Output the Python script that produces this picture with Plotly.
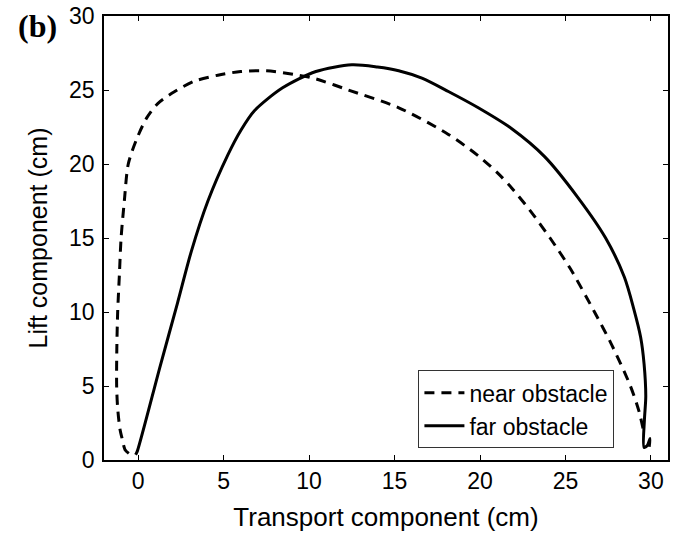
import plotly.graph_objects as go

# near obstacle (dashed)
near_x = [-0.55, -0.77, -0.95, -1.06, -1.2, -1.26, -1.25, -1.2, -1.1, -1.0, -0.81, -0.58, -0.1,
          0.49, 1.16, 2.14, 3.3, 4.66, 6.0, 7.5, 9.4, 10.4, 12.3, 15.25, 18.15, 19.9, 21.07,
          21.84, 22.9, 24.1, 25.3, 26.7, 27.7, 28.8, 29.3, 29.6]
near_y = [0.45, 0.7, 1.5, 2.04, 3.5, 5.0, 7.5, 10.0, 12.5, 15.0, 17.5, 20.0, 21.65,
          23.1, 24.1, 24.9, 25.6, 26.0, 26.25, 26.3, 26.0, 25.75, 25.0, 23.8, 22.0, 20.55, 19.35,
          18.4, 16.9, 15.0, 12.9, 10.0, 7.8, 5.0, 3.3, 1.8]

# far obstacle (solid)
far_x = [-0.15, -0.05, 1.3, 2.3, 3.11, 4.08, 5.24, 6.02, 6.8, 8.45, 10.4, 12.5,
         14.0, 15.24, 16.6, 18.15, 19.9, 21.84, 23.78, 25.72, 27.35, 28.45, 29.0, 29.4,
         29.6, 29.7, 29.62, 29.6, 29.8, 29.95, 29.9]
far_y = [0.35, 0.6, 6.4, 10.6, 14.1, 17.5, 20.6, 22.3, 23.6, 25.15, 26.25, 26.7,
         26.55, 26.3, 25.8, 24.9, 23.8, 22.4, 20.5, 17.75, 15.0, 12.35, 10.2, 8.3,
         6.5, 4.3, 2.7, 0.85, 1.0, 1.45, 0.9]

x_ticks = [0, 5, 10, 15, 20, 25, 30]
y_ticks = [0, 5, 10, 15, 20, 25, 30]

FONT = "Liberation Sans, Arial, sans-serif"

fig = go.Figure()
fig.add_trace(go.Scatter(x=near_x, y=near_y, mode="lines", name="near obstacle",
                         line=dict(color="black", width=3, dash="10px,7px", shape="spline", smoothing=0.8)))
fig.add_trace(go.Scatter(x=far_x, y=far_y, mode="lines", name="far obstacle",
                         line=dict(color="black", width=3, shape="spline", smoothing=0.8)))

axis_common = dict(showline=True, linecolor="black", linewidth=1.5, mirror="ticks",
                   ticks="inside", ticklen=5, tickwidth=1, tickcolor="black",
                   showgrid=False, zeroline=False,
                   tickfont=dict(family=FONT, size=23, color="black"))

fig.update_xaxes(range=[-2, 31], tickvals=x_ticks, ticktext=[str(v) for v in x_ticks],
                 title=dict(text="Transport component (cm)", font=dict(family=FONT, size=26, color="black"),
                            standoff=14),
                 **axis_common)
fig.update_yaxes(range=[0, 30], tickvals=y_ticks, ticktext=[str(v) for v in y_ticks],
                 ticklabelstandoff=3,
                 title=dict(text="Lift component (cm)", font=dict(family=FONT, size=25, color="black"),
                            standoff=14),
                 **axis_common)

fig.update_layout(
    width=673, height=537,
    margin=dict(l=104, r=3, t=14, b=77),
    plot_bgcolor="white", paper_bgcolor="white",
    showlegend=True,
    legend=dict(x=0.905, y=0.2018, xanchor="right", yanchor="top",
                bgcolor="white", bordercolor="#333", borderwidth=1,
                font=dict(family=FONT, size=23, color="black"),
                itemwidth=40, tracegroupgap=0),
    annotations=[dict(text="<b>(b)</b>", xref="paper", yref="paper", x=-0.118, y=0.978,
                      xanchor="center", yanchor="middle", showarrow=False,
                      font=dict(family="Liberation Serif, Times New Roman, serif", size=32, color="black"))],
)

fig.write_html("out.html")
